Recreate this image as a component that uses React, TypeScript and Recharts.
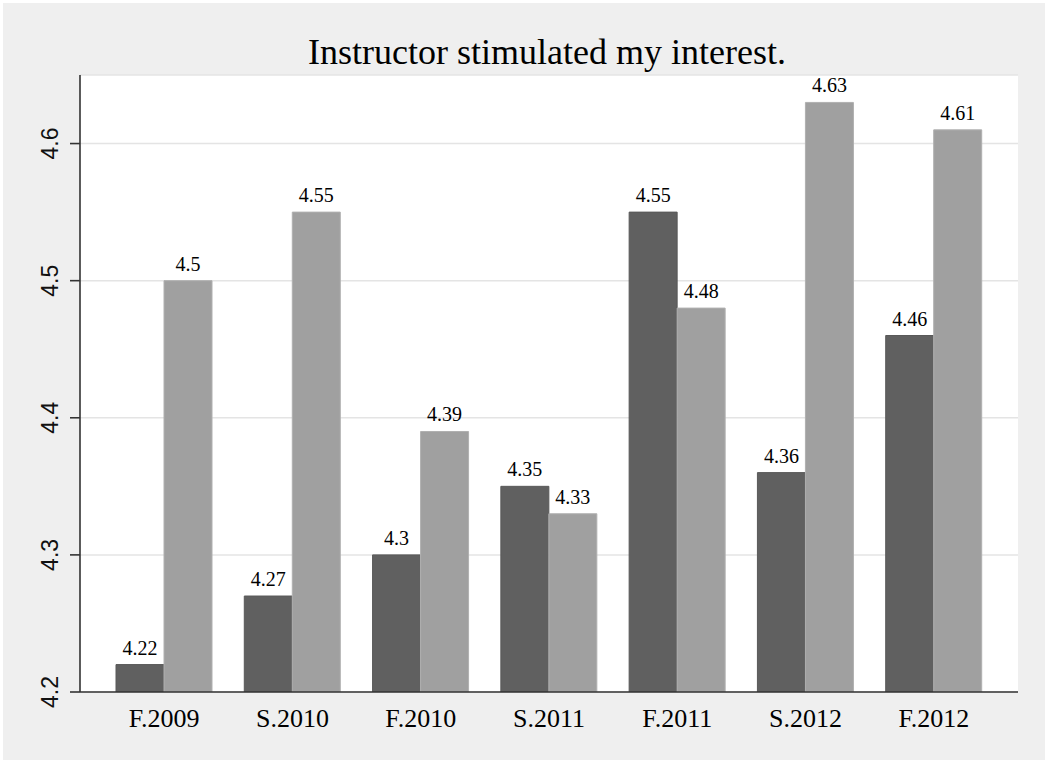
import React from "react";
import { BarChart, Bar, XAxis, YAxis, CartesianGrid, LabelList } from "recharts";

const categories = ["F.2009", "S.2010", "F.2010", "S.2011", "F.2011", "S.2012", "F.2012"];
const darkValues = [4.22, 4.27, 4.3, 4.35, 4.55, 4.36, 4.46];
const lightValues = [4.5, 4.55, 4.39, 4.33, 4.48, 4.63, 4.61];
const yTicks = [4.2, 4.3, 4.4, 4.5, 4.6];
const title = "Instructor stimulated my interest.";

const data = categories.map((c, i) => ({ name: c, dark: darkValues[i], light: lightValues[i] }));

const YTick = (props: any) => {
  const { x, y, payload } = props;
  const bx = x - 10;
  return (
    <text
      x={bx}
      y={y}
      transform={`rotate(-90, ${bx}, ${y})`}
      textAnchor="middle"
      fontFamily="'Liberation Sans', Arial, sans-serif"
      fontSize={23}
      fill="#111"
    >
      {payload.value}
    </text>
  );
};

const XTick = (props: any) => {
  const { x, y, payload } = props;
  return (
    <text
      x={x}
      y={y + 27}
      textAnchor="middle"
      fontFamily="'Liberation Serif', 'Times New Roman', serif"
      fontSize={26}
      fill="#000"
    >
      {payload.value}
    </text>
  );
};

export default function App() {
  return (
    <div style={{ position: "relative", width: 1045, height: 760, background: "#fff", overflow: "hidden" }}>
      <style>{`body{margin:0}`}</style>
      <div style={{ position: "absolute", left: 3, top: 3, right: 0, bottom: 0, background: "#efefef" }} />
      <div
        style={{
          position: "absolute",
          left: 78,
          width: 938,
          top: 32,
          textAlign: "center",
          fontFamily: "'Liberation Serif', 'Times New Roman', serif",
          fontSize: 36,
          lineHeight: "40px",
          color: "#000",
        }}
      >
        {title}
      </div>
      <div style={{ position: "absolute", left: 0, top: 0 }}>
        <BarChart
          width={1045}
          height={760}
          data={data}
          margin={{ top: 75, left: 10, right: 27, bottom: 8 }}
          barGap={0}
          barCategoryGap={16}
        >
          <CartesianGrid vertical={false} horizontal={true} stroke="#e4e4e4" strokeWidth={1.5} fill="#ffffff" />
          <XAxis
            dataKey="name"
            height={60}
            padding={{ left: 20, right: 20 }}
            tickLine={false}
            axisLine={{ stroke: "#333", strokeWidth: 1.6 }}
            tick={<XTick />}
            interval={0}
          />
          <YAxis
            width={70}
            domain={[4.2, 4.65]}
            ticks={yTicks}
            allowDataOverflow
            tickSize={10}
            tickLine={{ stroke: "#333", strokeWidth: 1.6 }}
            axisLine={{ stroke: "#333", strokeWidth: 1.6 }}
            tick={<YTick />}
          />
          <Bar dataKey="dark" fill="#606060" stroke="#595959" strokeWidth={1} isAnimationActive={false}>
            <LabelList
              dataKey="dark"
              position="top"
              offset={10}
              fontFamily="'Liberation Serif', 'Times New Roman', serif"
              fontSize={20}
              fill="#000"
            />
          </Bar>
          <Bar dataKey="light" fill="#a0a0a0" stroke="#b0b0b0" strokeWidth={1} isAnimationActive={false}>
            <LabelList
              dataKey="light"
              position="top"
              offset={10}
              fontFamily="'Liberation Serif', 'Times New Roman', serif"
              fontSize={20}
              fill="#000"
            />
          </Bar>
        </BarChart>
      </div>
    </div>
  );
}
